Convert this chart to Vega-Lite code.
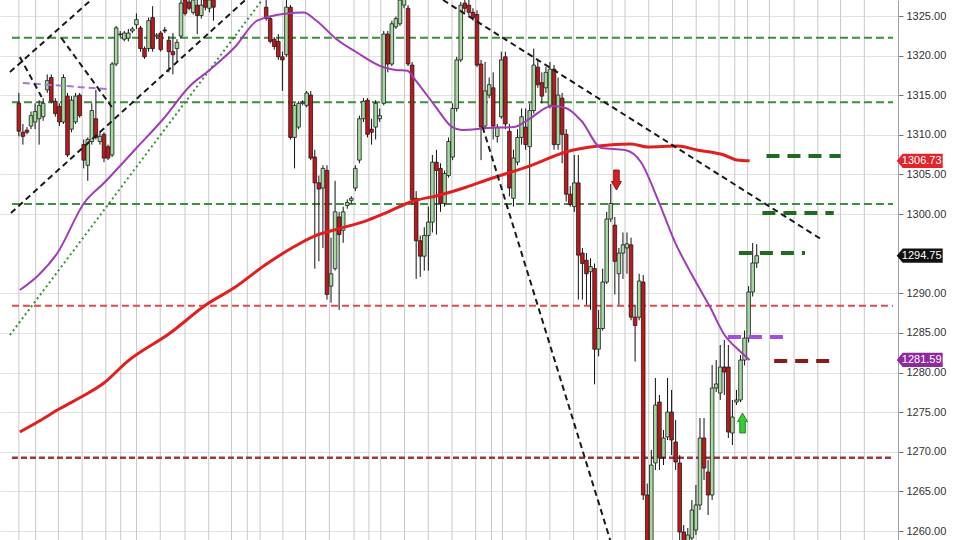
{
"$schema": "https://vega.github.io/schema/vega-lite/v6.json",
"width": 898, "height": 540,
"autosize": {"type": "none"},
"padding": {"left": 0, "top": 0, "right": 62, "bottom": 0},
"background": "white",
"config": {"view": {"stroke": null}, "font": "Liberation Sans",
 "axisY": {"grid": true, "gridColor": "#e2e2e2", "gridWidth": 1, "domain": true, "domainColor": "#a0a0a0", "ticks": true, "tickColor": "#777777", "tickSize": 5, "labelFontSize": 11, "labelColor": "#333333", "labelPadding": 3, "labelFont": "Liberation Sans"}},
"datasets": {
"grid": [{"g":0},{"g":4.15},{"g":9.76},{"g":15.61},{"g":21.46},{"g":25.12},{"g":29.02},{"g":34.88},{"g":40.98},{"g":46.83},{"g":52.44},{"g":56.34},{"g":59.51},{"g":65.12},{"g":70.73},{"g":76.59},{"g":82.68},{"g":86.34},{"g":89.27},{"g":95.12},{"g":100.98},{"g":106.83},{"g":112.68},{"g":116.59},{"g":119.27},{"g":125.12},{"g":130.98},{"g":136.83},{"g":142.68},{"g":146.34},{"g":149.51},{"g":155.37},{"g":161.22},{"g":167.07},{"g":172.68},{"g":176.59},{"g":179.76},{"g":185.12},{"g":191.22},{"g":197.07},{"g":202.68},{"g":208.54}],
"candles": [
{"i":0,"o":1313.98,"h":1315.29,"l":1309.81,"c":1310.46},
{"i":1,"o":1310.33,"h":1311.38,"l":1308.77,"c":1309.81},
{"i":2,"o":1310.59,"h":1310.98,"l":1310.07,"c":1310.33},
{"i":3,"o":1311.11,"h":1312.94,"l":1310.72,"c":1312.42},
{"i":4,"o":1311.63,"h":1313.98,"l":1310.72,"c":1312.94},
{"i":5,"o":1312.03,"h":1314.37,"l":1308.77,"c":1313.72},
{"i":6,"o":1312.29,"h":1314.63,"l":1311.77,"c":1313.98},
{"i":7,"o":1315.68,"h":1317.63,"l":1315.29,"c":1316.85},
{"i":8,"o":1317.24,"h":1317.63,"l":1313.98,"c":1314.24},
{"i":9,"o":1314.24,"h":1314.63,"l":1312.29,"c":1312.68},
{"i":10,"o":1313.59,"h":1313.98,"l":1311.11,"c":1311.63},
{"i":11,"o":1311.63,"h":1317.63,"l":1311.38,"c":1317.24},
{"i":12,"o":1314.89,"h":1315.29,"l":1307.2,"c":1307.46},
{"i":13,"o":1310.72,"h":1314.89,"l":1310.33,"c":1314.37},
{"i":14,"o":1311.63,"h":1315.29,"l":1311.38,"c":1314.89},
{"i":15,"o":1315.02,"h":1315.29,"l":1312.16,"c":1312.42},
{"i":16,"o":1308.77,"h":1309.42,"l":1305.77,"c":1306.81},
{"i":17,"o":1306.16,"h":1309.68,"l":1304.2,"c":1309.42},
{"i":18,"o":1309.16,"h":1313.98,"l":1308.77,"c":1313.07},
{"i":19,"o":1312.03,"h":1315.68,"l":1309.42,"c":1309.68},
{"i":20,"o":1309.16,"h":1310.33,"l":1308.77,"c":1309.81},
{"i":21,"o":1310.07,"h":1310.33,"l":1306.55,"c":1307.07},
{"i":22,"o":1308.51,"h":1308.77,"l":1306.81,"c":1307.07},
{"i":23,"o":1307.46,"h":1319.2,"l":1307.2,"c":1318.94},
{"i":24,"o":1318.94,"h":1323.76,"l":1318.68,"c":1323.5},
{"i":25,"o":1322.72,"h":1323.11,"l":1322.33,"c":1322.65},
{"i":26,"o":1322.07,"h":1323.11,"l":1321.8,"c":1322.85},
{"i":27,"o":1322.2,"h":1323.37,"l":1321.8,"c":1322.85},
{"i":28,"o":1323.11,"h":1323.63,"l":1322.85,"c":1323.37},
{"i":29,"o":1323.89,"h":1325.32,"l":1323.37,"c":1324.54},
{"i":30,"o":1323.5,"h":1323.76,"l":1320.5,"c":1320.89},
{"i":31,"o":1320.89,"h":1321.15,"l":1319.59,"c":1319.85},
{"i":32,"o":1320.89,"h":1324.8,"l":1320.5,"c":1324.41},
{"i":33,"o":1324.8,"h":1326.24,"l":1320.5,"c":1320.89},
{"i":34,"o":1322.46,"h":1322.85,"l":1322.07,"c":1322.59},
{"i":35,"o":1322.85,"h":1323.11,"l":1320.5,"c":1320.76},
{"i":36,"o":1323.24,"h":1323.63,"l":1322.85,"c":1323.11},
{"i":37,"o":1321.94,"h":1322.46,"l":1317.89,"c":1320.5},
{"i":38,"o":1320.5,"h":1322.85,"l":1317.63,"c":1320.11},
{"i":39,"o":1320.89,"h":1322.07,"l":1319.2,"c":1321.67},
{"i":40,"o":1322.46,"h":1327.02,"l":1322.2,"c":1326.63},
{"i":41,"o":1327.02,"h":1327.67,"l":1325.06,"c":1325.32},
{"i":42,"o":1326.76,"h":1327.67,"l":1325.72,"c":1325.98},
{"i":43,"o":1325.46,"h":1327.41,"l":1325.19,"c":1327.02},
{"i":44,"o":1326.37,"h":1327.41,"l":1322.72,"c":1325.06},
{"i":45,"o":1325.06,"h":1327.41,"l":1324.67,"c":1326.37},
{"i":46,"o":1327.02,"h":1327.67,"l":1325.72,"c":1326.11},
{"i":47,"o":1325.98,"h":1327.41,"l":1325.46,"c":1327.02},
{"i":48,"o":1327.41,"h":1328.06,"l":1324.41,"c":1326.11},
{"i":49,"o":1328.5,"h":1329.5,"l":1327.8,"c":1329.2},
{"i":50,"o":1329.2,"h":1330.5,"l":1328.8,"c":1330.1},
{"i":51,"o":1330.1,"h":1330.8,"l":1329.2,"c":1329.6},
{"i":52,"o":1329.6,"h":1331.2,"l":1329.3,"c":1330.9},
{"i":53,"o":1330.9,"h":1331.8,"l":1330.2,"c":1330.5},
{"i":54,"o":1330.5,"h":1332.0,"l":1330.0,"c":1331.7},
{"i":55,"o":1331.7,"h":1332.5,"l":1330.8,"c":1331.1},
{"i":56,"o":1331.1,"h":1331.9,"l":1330.0,"c":1330.4},
{"i":57,"o":1330.4,"h":1331.5,"l":1329.8,"c":1331.2},
{"i":58,"o":1331.2,"h":1331.6,"l":1329.5,"c":1329.9},
{"i":59,"o":1329.9,"h":1330.6,"l":1328.6,"c":1329.0},
{"i":60,"o":1329.0,"h":1329.8,"l":1327.8,"c":1328.3},
{"i":61,"o":1326.11,"h":1327.67,"l":1324.41,"c":1324.67},
{"i":62,"o":1324.67,"h":1324.93,"l":1321.54,"c":1321.8},
{"i":63,"o":1322.07,"h":1322.33,"l":1320.76,"c":1321.15},
{"i":64,"o":1321.8,"h":1322.72,"l":1319.46,"c":1319.85},
{"i":65,"o":1319.85,"h":1320.5,"l":1315.55,"c":1319.46},
{"i":66,"o":1320.11,"h":1327.02,"l":1319.85,"c":1326.11},
{"i":67,"o":1326.11,"h":1326.37,"l":1309.42,"c":1309.68},
{"i":68,"o":1309.68,"h":1313.98,"l":1305.77,"c":1313.72},
{"i":69,"o":1310.98,"h":1314.24,"l":1310.72,"c":1313.98},
{"i":70,"o":1313.98,"h":1314.37,"l":1313.72,"c":1314.11},
{"i":71,"o":1313.72,"h":1315.55,"l":1313.46,"c":1315.29},
{"i":72,"o":1315.02,"h":1315.55,"l":1306.81,"c":1307.07},
{"i":73,"o":1307.2,"h":1308.12,"l":1293.12,"c":1303.94},
{"i":74,"o":1303.94,"h":1304.86,"l":1294.04,"c":1303.16},
{"i":75,"o":1303.29,"h":1306.16,"l":1295.73,"c":1305.77},
{"i":76,"o":1305.51,"h":1306.16,"l":1289.21,"c":1289.86},
{"i":77,"o":1290.91,"h":1297.03,"l":1288.82,"c":1292.47},
{"i":78,"o":1293.12,"h":1304.2,"l":1292.86,"c":1300.29},
{"i":79,"o":1299.64,"h":1300.29,"l":1287.91,"c":1297.42},
{"i":80,"o":1297.95,"h":1300.94,"l":1296.38,"c":1300.29},
{"i":81,"o":1301.08,"h":1301.86,"l":1300.68,"c":1301.47},
{"i":82,"o":1301.73,"h":1302.25,"l":1301.34,"c":1301.99},
{"i":83,"o":1303.29,"h":1306.16,"l":1302.9,"c":1305.77},
{"i":84,"o":1306.81,"h":1312.42,"l":1306.42,"c":1312.03},
{"i":85,"o":1312.03,"h":1314.63,"l":1311.63,"c":1314.24},
{"i":86,"o":1314.37,"h":1314.63,"l":1309.68,"c":1310.07},
{"i":87,"o":1310.72,"h":1312.03,"l":1308.77,"c":1310.33},
{"i":88,"o":1310.98,"h":1314.37,"l":1309.42,"c":1313.98},
{"i":89,"o":1312.03,"h":1313.33,"l":1311.63,"c":1312.42},
{"i":90,"o":1313.98,"h":1323.11,"l":1313.72,"c":1322.72},
{"i":91,"o":1322.72,"h":1323.11,"l":1317.89,"c":1318.94},
{"i":92,"o":1318.94,"h":1324.41,"l":1318.68,"c":1324.02},
{"i":93,"o":1323.63,"h":1324.93,"l":1323.37,"c":1324.67},
{"i":94,"o":1324.02,"h":1327.41,"l":1323.76,"c":1327.02},
{"i":95,"o":1326.37,"h":1327.8,"l":1325.98,"c":1327.41},
{"i":96,"o":1325.98,"h":1326.37,"l":1318.68,"c":1318.94},
{"i":97,"o":1318.81,"h":1319.2,"l":1301.21,"c":1301.86},
{"i":98,"o":1301.99,"h":1302.9,"l":1291.82,"c":1296.64},
{"i":99,"o":1296.64,"h":1297.29,"l":1292.08,"c":1294.69},
{"i":100,"o":1294.69,"h":1298.34,"l":1292.86,"c":1297.29},
{"i":101,"o":1297.29,"h":1300.94,"l":1292.86,"c":1298.99},
{"i":102,"o":1298.99,"h":1307.46,"l":1297.68,"c":1306.55},
{"i":103,"o":1306.55,"h":1308.12,"l":1297.42,"c":1305.51},
{"i":104,"o":1305.77,"h":1306.42,"l":1300.29,"c":1301.34},
{"i":105,"o":1301.34,"h":1305.51,"l":1300.94,"c":1305.12},
{"i":106,"o":1304.86,"h":1309.68,"l":1304.6,"c":1309.16},
{"i":107,"o":1307.2,"h":1313.98,"l":1306.81,"c":1313.33},
{"i":108,"o":1313.33,"h":1319.85,"l":1312.94,"c":1319.46},
{"i":109,"o":1319.46,"h":1326.76,"l":1319.2,"c":1326.37},
{"i":110,"o":1326.63,"h":1327.41,"l":1325.46,"c":1325.98},
{"i":111,"o":1326.37,"h":1327.02,"l":1325.06,"c":1325.46},
{"i":112,"o":1325.46,"h":1325.98,"l":1324.41,"c":1324.8},
{"i":113,"o":1325.19,"h":1325.72,"l":1318.55,"c":1318.81},
{"i":114,"o":1318.94,"h":1319.46,"l":1306.81,"c":1310.98},
{"i":115,"o":1311.11,"h":1319.2,"l":1310.72,"c":1315.55},
{"i":116,"o":1315.02,"h":1317.24,"l":1314.63,"c":1316.33},
{"i":117,"o":1315.94,"h":1317.89,"l":1309.42,"c":1311.11},
{"i":118,"o":1309.81,"h":1311.38,"l":1309.03,"c":1310.98},
{"i":119,"o":1312.29,"h":1320.5,"l":1312.03,"c":1319.46},
{"i":120,"o":1319.85,"h":1320.5,"l":1310.72,"c":1311.38},
{"i":121,"o":1310.46,"h":1311.38,"l":1302.25,"c":1303.29},
{"i":122,"o":1301.99,"h":1308.12,"l":1300.94,"c":1307.07},
{"i":123,"o":1306.55,"h":1310.72,"l":1306.16,"c":1309.68},
{"i":124,"o":1309.68,"h":1313.33,"l":1308.77,"c":1312.29},
{"i":125,"o":1310.98,"h":1313.33,"l":1308.12,"c":1308.77},
{"i":126,"o":1308.51,"h":1313.98,"l":1301.34,"c":1313.07},
{"i":127,"o":1313.07,"h":1320.89,"l":1312.68,"c":1318.81},
{"i":128,"o":1318.55,"h":1319.46,"l":1315.94,"c":1316.33},
{"i":129,"o":1316.59,"h":1317.89,"l":1313.98,"c":1314.89},
{"i":130,"o":1315.94,"h":1318.55,"l":1315.29,"c":1317.89},
{"i":131,"o":1313.72,"h":1319.2,"l":1313.33,"c":1318.29},
{"i":132,"o":1318.29,"h":1318.81,"l":1308.12,"c":1308.77},
{"i":133,"o":1308.77,"h":1317.24,"l":1308.12,"c":1315.02},
{"i":134,"o":1314.63,"h":1315.29,"l":1306.42,"c":1310.07},
{"i":135,"o":1310.07,"h":1310.72,"l":1301.6,"c":1302.51},
{"i":136,"o":1302.51,"h":1303.55,"l":1300.94,"c":1301.21},
{"i":137,"o":1300.94,"h":1307.46,"l":1300.29,"c":1303.94},
{"i":138,"o":1303.94,"h":1307.46,"l":1289.21,"c":1294.82},
{"i":139,"o":1295.08,"h":1295.73,"l":1289.21,"c":1293.77},
{"i":140,"o":1294.16,"h":1295.08,"l":1288.56,"c":1292.47},
{"i":141,"o":1292.73,"h":1294.42,"l":1287.91,"c":1293.38},
{"i":142,"o":1293.12,"h":1293.77,"l":1278.52,"c":1282.95},
{"i":143,"o":1282.95,"h":1287.91,"l":1282.04,"c":1285.56},
{"i":144,"o":1285.56,"h":1293.12,"l":1285.3,"c":1291.43},
{"i":145,"o":1291.43,"h":1300.29,"l":1291.17,"c":1299.38},
{"i":146,"o":1299.38,"h":1303.81,"l":1298.99,"c":1301.34},
{"i":147,"o":1298.6,"h":1299.64,"l":1289.86,"c":1294.04},
{"i":148,"o":1292.47,"h":1295.73,"l":1288.56,"c":1295.08},
{"i":149,"o":1295.08,"h":1297.68,"l":1291.82,"c":1296.12},
{"i":150,"o":1295.73,"h":1297.68,"l":1292.47,"c":1296.25},
{"i":151,"o":1296.12,"h":1297.03,"l":1286.6,"c":1286.99},
{"i":152,"o":1286.99,"h":1288.56,"l":1281.39,"c":1285.95},
{"i":153,"o":1286.99,"h":1292.47,"l":1286.6,"c":1291.56},
{"i":154,"o":1291.43,"h":1292.31,"l":1263.92,"c":1264.55},
{"i":155,"o":1264.55,"h":1266.0,"l":1256.0,"c":1258.0},
{"i":156,"o":1258.0,"h":1270.23,"l":1256.5,"c":1268.33},
{"i":157,"o":1268.59,"h":1279.31,"l":1267.7,"c":1275.9},
{"i":158,"o":1276.28,"h":1277.17,"l":1267.7,"c":1269.22},
{"i":159,"o":1269.34,"h":1272.75,"l":1268.33,"c":1271.74},
{"i":160,"o":1271.87,"h":1279.31,"l":1271.49,"c":1275.02},
{"i":161,"o":1275.02,"h":1277.8,"l":1269.59,"c":1271.49},
{"i":162,"o":1271.24,"h":1274.01,"l":1267.7,"c":1268.71},
{"i":163,"o":1268.59,"h":1269.59,"l":1258.87,"c":1259.88},
{"i":164,"o":1259.88,"h":1260.76,"l":1256.0,"c":1258.24},
{"i":165,"o":1257.5,"h":1260.38,"l":1256.0,"c":1259.5},
{"i":166,"o":1259.12,"h":1263.92,"l":1257.0,"c":1262.65},
{"i":167,"o":1260.13,"h":1265.81,"l":1259.5,"c":1263.29},
{"i":168,"o":1263.29,"h":1274.27,"l":1262.65,"c":1271.74},
{"i":169,"o":1271.74,"h":1274.27,"l":1266.44,"c":1267.95},
{"i":170,"o":1267.45,"h":1268.96,"l":1262.02,"c":1264.55},
{"i":171,"o":1264.55,"h":1280.95,"l":1263.92,"c":1278.05},
{"i":172,"o":1278.05,"h":1281.58,"l":1277.55,"c":1278.56},
{"i":173,"o":1277.42,"h":1283.48,"l":1276.54,"c":1280.7},
{"i":174,"o":1280.7,"h":1284.11,"l":1277.17,"c":1280.07},
{"i":175,"o":1280.7,"h":1283.48,"l":1271.74,"c":1272.5},
{"i":176,"o":1272.37,"h":1276.54,"l":1270.86,"c":1274.39},
{"i":177,"o":1276.28,"h":1277.8,"l":1275.9,"c":1276.54},
{"i":178,"o":1276.54,"h":1282.21,"l":1276.28,"c":1281.58},
{"i":179,"o":1281.58,"h":1285.3,"l":1280.9,"c":1284.36},
{"i":180,"o":1284.36,"h":1290.9,"l":1283.8,"c":1290.17},
{"i":181,"o":1290.17,"h":1296.35,"l":1289.6,"c":1293.83},
{"i":182,"o":1293.83,"h":1296.2,"l":1293.2,"c":1294.75}
],
"ma20": [{"i":0.24,"p":1290.42},{"i":4.63,"p":1292.19},{"i":9.51,"p":1295.09},{"i":16.1,"p":1301.4},{"i":20.98,"p":1303.92},{"i":29.02,"p":1308.34},{"i":35.61,"p":1312.0},{"i":42.2,"p":1316.17},{"i":47.07,"p":1318.19},{"i":53.41,"p":1321.15},{"i":58.78,"p":1324.41},{"i":66.1,"p":1325.33},{"i":70.24,"p":1325.45},{"i":73.41,"p":1324.41},{"i":78.29,"p":1322.1},{"i":83.17,"p":1320.46},{"i":89.76,"p":1318.56},{"i":92.93,"p":1318.19},{"i":95.85,"p":1318.1},{"i":97.8,"p":1316.92},{"i":102.68,"p":1313.64},{"i":106.83,"p":1311.0},{"i":109.27,"p":1310.61},{"i":115.61,"p":1310.87},{"i":122.2,"p":1311.0},{"i":125.85,"p":1312.0},{"i":131.46,"p":1313.64},{"i":134.88,"p":1313.39},{"i":138.78,"p":1311.75},{"i":143.66,"p":1308.34},{"i":149.51,"p":1308.09},{"i":153.41,"p":1306.57},{"i":157.56,"p":1301.9},{"i":161.71,"p":1296.6},{"i":166.59,"p":1291.81},{"i":170.49,"p":1288.27},{"i":173.9,"p":1284.87},{"i":177.8,"p":1282.72},{"i":180.24,"p":1281.59}],
"ma200": [{"i":0.24,"p":1272.5},{"i":4.63,"p":1273.76},{"i":9.51,"p":1275.27},{"i":15.37,"p":1276.91},{"i":20.98,"p":1278.68},{"i":26.59,"p":1281.33},{"i":37.32,"p":1284.99},{"i":46.1,"p":1288.53},{"i":53.41,"p":1290.8},{"i":60.73,"p":1293.57},{"i":67.32,"p":1295.72},{"i":72.93,"p":1297.23},{"i":77.8,"p":1297.99},{"i":86.1,"p":1299.25},{"i":90.98,"p":1300.26},{"i":96.59,"p":1301.53},{"i":103.9,"p":1302.41},{"i":110.49,"p":1303.42},{"i":115.37,"p":1304.3},{"i":126.59,"p":1306.19},{"i":134.88,"p":1307.84},{"i":142.93,"p":1308.59},{"i":150.98,"p":1308.85},{"i":155.12,"p":1308.47},{"i":162.44,"p":1308.59},{"i":167.32,"p":1308.09},{"i":173.9,"p":1307.46},{"i":177.07,"p":1306.83},{"i":180.24,"p":1306.73}],
"lvlGreen": [{"i":-1.7,"i2":215.61,"p":1322.26},{"i":-1.7,"i2":215.61,"p":1314.1},{"i":-1.7,"i2":215.61,"p":1301.27}],
"lvlRed": [{"i":-1.7,"i2":215.61,"p":1288.44}],
"lvlMaroon": [{"i":-1.7,"i2":215.61,"p":1269.25}],
"projGreen": [{"i":184.4,"i2":202.7,"p":1307.33},{"i":183.4,"i2":201.0,"p":1300.13},{"i":177.6,"i2":193.9,"p":1295.09}],
"projPurple": [{"i":174.9,"i2":189.3,"p":1284.49}],
"projMaroon": [{"i":186.3,"i2":201.0,"p":1281.46}],
"trendBlack": [{"i":-2.2,"p":1317.93,"i2":17.8,"p2":1327.02},{"i":-1.95,"p":1300.14,"i2":55.85,"p2":1327.02},{"i":0.24,"p":1319.83,"i2":5.61,"p2":1314.78},{"i":10.49,"p":1322.22,"i2":22.93,"p2":1313.52},{"i":104.63,"p":1327.02,"i2":197.8,"p2":1296.86},{"i":114.39,"p":1311.0,"i2":145.85,"p2":1258.87}],
"trendDotted": [{"i":-2.2,"p":1284.74,"i2":60,"p2":1327.02}],
"trendPurple": [{"i":0.98,"p":1316.55,"i2":21.7,"p2":1315.79}],
"arrowDown": [{"i":147.4,"p":1304.3}],
"arrowUp": [{"i":178.5,"p":1273.63}],
"tags": [{"i":222.2,"p":1306.73,"s":"SMA 200"},{"i":222.2,"p":1294.75,"s":"Last"},{"i":222.2,"p":1281.59,"s":"SMA 20"}]
},
"layer": [
{"data":{"name":"grid"},"mark":{"type":"rule","color":"#c9c9c9","strokeWidth":1},
 "encoding":{"x":{"field":"g","type":"quantitative","scale":{"domain":[-3.415,215.61],"nice":false,"zero":false},"axis":null}}},
{"data":{"name":"lvlGreen"},"mark":{"type":"rule","color":"#3c8f3c","strokeWidth":2,"strokeDash":[8,4]},
 "encoding":{"x":{"field":"i","type":"quantitative","scale":{"domain":[-3.415,215.61],"nice":false,"zero":false},"axis":null},"x2":{"field":"i2"},
 "y":{"field":"p","type":"quantitative","title":null,"scale":{"domain":[1258.87,1327.02],"nice":false,"zero":false},
  "axis":{"orient":"right","values":[1260,1265,1270,1275,1280,1285,1290,1300,1305,1310,1315,1320,1325],"format":".2f","title":null}}}},
{"data":{"name":"lvlRed"},"mark":{"type":"rule","color":"#df4b4b","strokeWidth":2,"strokeDash":[7,4]},
 "encoding":{"x":{"field":"i","type":"quantitative","scale":{"domain":[-3.415,215.61],"nice":false,"zero":false},"axis":null},"x2":{"field":"i2"},
 "y":{"field":"p","type":"quantitative","title":null,"scale":{"domain":[1258.87,1327.02],"nice":false,"zero":false}}}},
{"data":{"name":"lvlMaroon"},"mark":{"type":"rule","color":"#9c3a3a","strokeWidth":2.5,"strokeDash":[6,3]},
 "encoding":{"x":{"field":"i","type":"quantitative","scale":{"domain":[-3.415,215.61],"nice":false,"zero":false},"axis":null},"x2":{"field":"i2"},
 "y":{"field":"p","type":"quantitative","title":null,"scale":{"domain":[1258.87,1327.02],"nice":false,"zero":false}}}},
{"data":{"name":"candles"},"mark":{"type":"rule","color":"#111111","strokeWidth":1,"clip":true},
 "encoding":{"x":{"field":"i","type":"quantitative","scale":{"domain":[-3.415,215.61],"nice":false,"zero":false},"axis":null},
 "y":{"field":"l","type":"quantitative","title":null,"scale":{"domain":[1258.87,1327.02],"nice":false,"zero":false}},"y2":{"field":"h"}}},
{"data":{"name":"candles"},"mark":{"type":"bar","size":3.6,"stroke":"#1c1c1c","strokeWidth":0.8,"clip":true},
 "encoding":{"x":{"field":"i","type":"quantitative","scale":{"domain":[-3.415,215.61],"nice":false,"zero":false},"axis":null},
 "y":{"field":"o","type":"quantitative","title":null,"scale":{"domain":[1258.87,1327.02],"nice":false,"zero":false}},"y2":{"field":"c"},
 "color":{"condition":{"test":"datum.c >= datum.o","value":"#a4d9a0"},"value":"#c3161c"}}},
{"data":{"name":"trendDotted"},"mark":{"type":"rule","color":"#3a8f3a","strokeWidth":2,"strokeDash":[2,3],"clip":true},
 "encoding":{"x":{"field":"i","type":"quantitative","scale":{"domain":[-3.415,215.61],"nice":false,"zero":false},"axis":null},"x2":{"field":"i2"},
 "y":{"field":"p","type":"quantitative","title":null,"scale":{"domain":[1258.87,1327.02],"nice":false,"zero":false}},"y2":{"field":"p2"}}},
{"data":{"name":"trendPurple"},"mark":{"type":"rule","color":"#a574d6","strokeWidth":2,"strokeDash":[7,4],"clip":true},
 "encoding":{"x":{"field":"i","type":"quantitative","scale":{"domain":[-3.415,215.61],"nice":false,"zero":false},"axis":null},"x2":{"field":"i2"},
 "y":{"field":"p","type":"quantitative","title":null,"scale":{"domain":[1258.87,1327.02],"nice":false,"zero":false}},"y2":{"field":"p2"}}},
{"data":{"name":"ma200"},"mark":{"type":"line","color":"#e0201e","strokeWidth":3,"interpolate":"monotone","clip":true},
 "encoding":{"x":{"field":"i","type":"quantitative","scale":{"domain":[-3.415,215.61],"nice":false,"zero":false},"axis":null},
 "y":{"field":"p","type":"quantitative","title":null,"scale":{"domain":[1258.87,1327.02],"nice":false,"zero":false}}}},
{"data":{"name":"ma20"},"mark":{"type":"line","color":"#a03cb8","strokeWidth":2,"interpolate":"monotone","clip":true},
 "encoding":{"x":{"field":"i","type":"quantitative","scale":{"domain":[-3.415,215.61],"nice":false,"zero":false},"axis":null},
 "y":{"field":"p","type":"quantitative","title":null,"scale":{"domain":[1258.87,1327.02],"nice":false,"zero":false}}}},
{"data":{"name":"trendBlack"},"mark":{"type":"rule","color":"#1a1a1a","strokeWidth":2,"strokeDash":[6,4],"clip":true},
 "encoding":{"x":{"field":"i","type":"quantitative","scale":{"domain":[-3.415,215.61],"nice":false,"zero":false},"axis":null},"x2":{"field":"i2"},
 "y":{"field":"p","type":"quantitative","title":null,"scale":{"domain":[1258.87,1327.02],"nice":false,"zero":false}},"y2":{"field":"p2"}}},
{"data":{"name":"projGreen"},"mark":{"type":"rule","color":"#1f6b1f","strokeWidth":4,"strokeDash":[13,8]},
 "encoding":{"x":{"field":"i","type":"quantitative","scale":{"domain":[-3.415,215.61],"nice":false,"zero":false},"axis":null},"x2":{"field":"i2"},
 "y":{"field":"p","type":"quantitative","title":null,"scale":{"domain":[1258.87,1327.02],"nice":false,"zero":false}}}},
{"data":{"name":"projPurple"},"mark":{"type":"rule","color":"#a24fe0","strokeWidth":4,"strokeDash":[13,8]},
 "encoding":{"x":{"field":"i","type":"quantitative","scale":{"domain":[-3.415,215.61],"nice":false,"zero":false},"axis":null},"x2":{"field":"i2"},
 "y":{"field":"p","type":"quantitative","title":null,"scale":{"domain":[1258.87,1327.02],"nice":false,"zero":false}}}},
{"data":{"name":"projMaroon"},"mark":{"type":"rule","color":"#8b1a1a","strokeWidth":4,"strokeDash":[13,8]},
 "encoding":{"x":{"field":"i","type":"quantitative","scale":{"domain":[-3.415,215.61],"nice":false,"zero":false},"axis":null},"x2":{"field":"i2"},
 "y":{"field":"p","type":"quantitative","title":null,"scale":{"domain":[1258.87,1327.02],"nice":false,"zero":false}}}},
{"data":{"name":"arrowDown"},"mark":{"type":"point","filled":true,"size":400,"color":"#d42020","stroke":"#7a0000","strokeWidth":0.8,"opacity":1,
  "shape":"M-0.28,-1L0.28,-1L0.28,0.15L0.5,0.15L0,1L-0.5,0.15L-0.28,0.15Z"},
 "encoding":{"x":{"field":"i","type":"quantitative","scale":{"domain":[-3.415,215.61],"nice":false,"zero":false},"axis":null},
 "y":{"field":"p","type":"quantitative","title":null,"scale":{"domain":[1258.87,1327.02],"nice":false,"zero":false}}}},
{"data":{"name":"arrowUp"},"mark":{"type":"point","filled":true,"size":400,"color":"#33cc33","stroke":"#1a6b1a","strokeWidth":0.8,"opacity":1,
  "shape":"M-0.28,1L0.28,1L0.28,-0.15L0.5,-0.15L0,-1L-0.5,-0.15L-0.28,-0.15Z"},
 "encoding":{"x":{"field":"i","type":"quantitative","scale":{"domain":[-3.415,215.61],"nice":false,"zero":false},"axis":null},
 "y":{"field":"p","type":"quantitative","title":null,"scale":{"domain":[1258.87,1327.02],"nice":false,"zero":false}}}},
{"data":{"name":"tags"},"mark":{"type":"point","filled":true,"size":2116,"opacity":1,
  "shape":"M-1,0L-0.74,-0.31L1,-0.31L1,0.31L-0.74,0.31Z"},
 "encoding":{"x":{"field":"i","type":"quantitative","scale":{"domain":[-3.415,215.61],"nice":false,"zero":false},"axis":null},
 "y":{"field":"p","type":"quantitative","title":null,"scale":{"domain":[1258.87,1327.02],"nice":false,"zero":false}},
 "color":{"field":"s","type":"nominal","scale":{"domain":["SMA 200","Last","SMA 20"],"range":["#e3242b","#111111","#8e2a9e"]},"legend":null}}},
{"data":{"name":"tags"},"mark":{"type":"text","color":"white","fontSize":11,"font":"Liberation Sans","align":"center","baseline":"middle","dx":2},
 "encoding":{"x":{"field":"i","type":"quantitative","scale":{"domain":[-3.415,215.61],"nice":false,"zero":false},"axis":null},
 "y":{"field":"p","type":"quantitative","title":null,"scale":{"domain":[1258.87,1327.02],"nice":false,"zero":false}},
 "text":{"field":"p","type":"quantitative","format":".2f"}}}
]
}
